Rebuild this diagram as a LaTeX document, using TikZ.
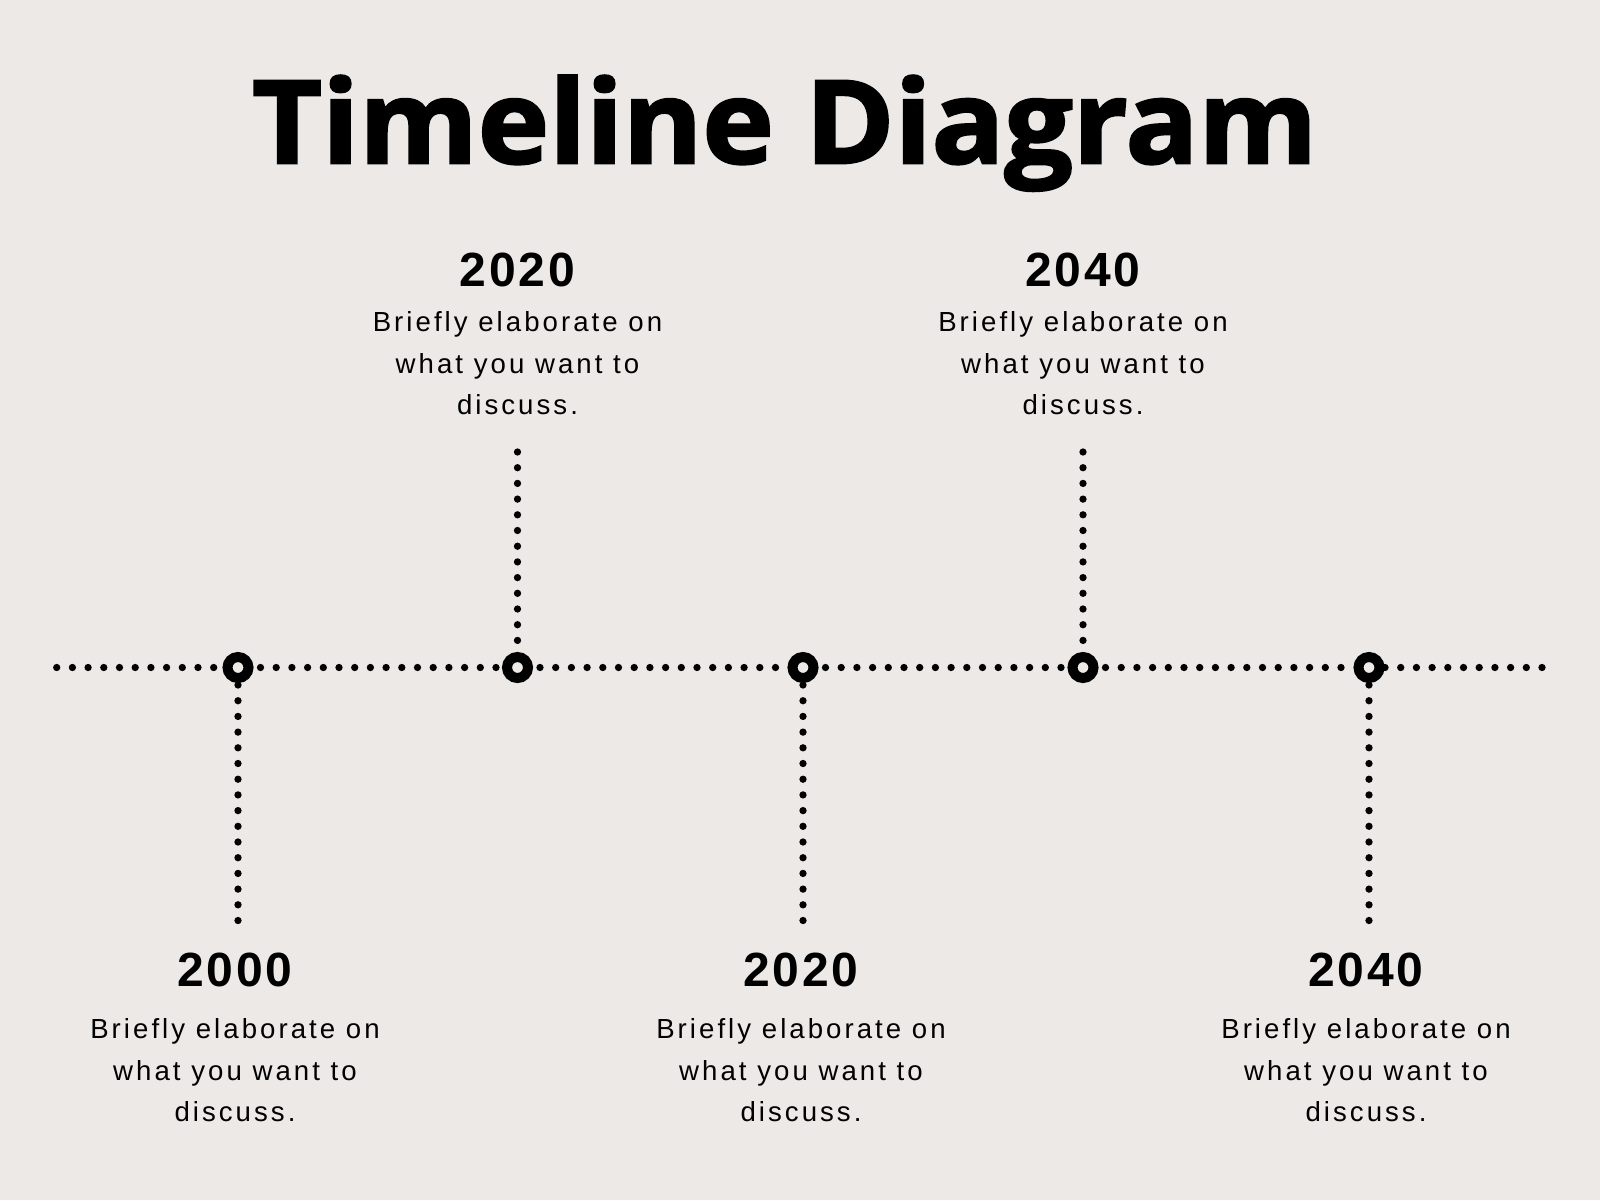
\documentclass[tikz,border=0pt]{standalone}
\usepackage{fontspec}
\usepackage{graphicx}
\setmainfont{Liberation Sans}
\newfontfamily\titlefont[BoldFeatures={FakeBold=2}]{Open Sans}
\newfontfamily\yearfont[LetterSpace=6]{Liberation Sans}
\newfontfamily\notefont[LetterSpace=11]{Liberation Sans}
\definecolor{paper}{RGB}{236,233,231}
\tikzset{
	dotline/.style={line width=7.3pt, line cap=round, dash pattern=on 0pt off 15.7pt},
	ring/.style={circle, draw, line width=10pt, minimum size=21pt, inner sep=0pt},
	year/.style={anchor=base, font=\yearfont\bfseries\fontsize{48}{48}\selectfont},
	note/.style={anchor=base, align=center, font=\notefont\fontsize{27.6}{41.5}\selectfont}
}
\begin{document}
\begin{tikzpicture}[x=1pt,y=-1pt]
	\fill[paper] (0,0) rectangle (1600,1200);
	\node[anchor=base, font=\titlefont\bfseries\fontsize{115.7}{120}\selectfont] (title) at (784.7,163.3) {\scalebox{1.045}[1]{Timeline Diagram}};
	\coordinate (lstart) at (56.7,667.5);
	\coordinate (lend) at (1542,667.5);
	\foreach \n/\x in {1/238,2/517.5,3/803,4/1083,5/1369}
		\node[ring] (c\n) at (\x,667.5) {};
	\draw[dotline] (lstart) -- (c1);
	\foreach \a/\b in {1/2,2/3,3/4,4/5}
		\draw[dotline, shorten <=7pt] (c\a) -- (c\b);
	\draw[dotline] (lend) -- (c5);
	\foreach \n/\x in {1/238,3/803,5/1369} {
		\coordinate (d\n) at (\x,922);
		\draw[dotline, shorten <=2pt] (c\n) -- (d\n);
	}
	\foreach \n/\x in {2/517.5,4/1083} {
		\coordinate (u\n) at (\x,452);
		\draw[dotline] (u\n) -- (c\n);
	}
	\foreach \n/\x/\yr/\ya/\yb in {1/235/2000/986/1121.7,2/517.5/2020/286/414.7,3/801/2020/986/1121.7,4/1083/2040/286/414.7,5/1366/2040/986/1121.7} {
		\node[year] (y\n) at (\x,\ya) {\yr};
		\node[note] (t\n) at (\x,\yb) {Briefly elaborate on\\what you want to\\discuss.};
	}
\end{tikzpicture}
\end{document}
